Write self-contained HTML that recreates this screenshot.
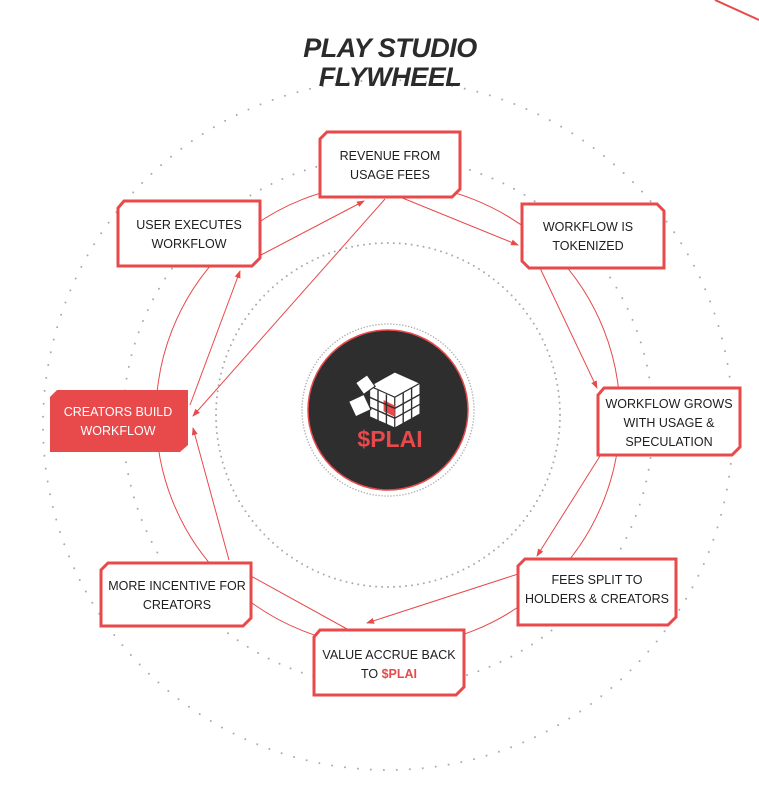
<!DOCTYPE html>
<html><head><meta charset="utf-8"><style>
html,body{margin:0;padding:0;background:#fff;}
body{width:759px;height:791px;overflow:hidden;position:relative;font-family:"Liberation Sans",sans-serif;}
.t{position:absolute;left:260px;top:34px;width:260px;text-align:center;font-weight:bold;font-style:italic;font-size:27px;line-height:29px;color:#2b2b2b;letter-spacing:-0.5px;}
</style></head><body>
<svg width="759" height="791" style="position:absolute;left:0;top:0">
<defs><marker id="a" markerWidth="8" markerHeight="8" refX="7" refY="4" orient="auto" markerUnits="userSpaceOnUse"><path d="M0,1 L8,4 L0,7z" fill="#e8494b"/></marker></defs>
<line x1="715" y1="0" x2="759" y2="20" stroke="#e8494b" stroke-width="2"/>
<g fill="none" stroke="#aaa" stroke-linecap="round">
<circle cx="388" cy="425" r="345" stroke-width="2" stroke-dasharray="0 13"/>
<circle cx="388" cy="422" r="265" stroke-width="2" stroke-dasharray="0 12"/>
<circle cx="388" cy="415" r="172" stroke-width="2" stroke-dasharray="0 6"/>
<circle cx="388" cy="410" r="86" stroke-width="1.5" stroke-dasharray="0 3"/>
</g>
<circle cx="388" cy="415" r="232" fill="none" stroke="#e8494b" stroke-width="1"/>
<g stroke="#e8494b" stroke-width="1" marker-end="url(#a)">
<line x1="400" y1="197" x2="518" y2="245"/>
<line x1="540" y1="268" x2="597" y2="388"/>
<line x1="600" y1="456" x2="537" y2="556"/>
<line x1="518" y1="574" x2="367" y2="623"/>
<line x1="347" y1="629" x2="240" y2="570"/>
<line x1="229" y1="560" x2="193" y2="428"/>
<line x1="190" y1="405" x2="240" y2="271"/>
<line x1="385" y1="199" x2="193" y2="416"/>
<line x1="261" y1="255" x2="364" y2="201"/>
</g>
<circle cx="388" cy="410" r="80" fill="#2e2e2e" stroke="#e8494b" stroke-width="1.5"/>
<g transform="translate(392,400) scale(1.4) translate(-384,-382)">
<g fill="#fff" stroke="#2e2e2e" stroke-width="0.8">
<path d="M368,372 l18,-10 18,8 -18,10z"/><path d="M368,372 l18,8 0,22 -18,-8z"/><path d="M386,380 l18,-10 0,22 -18,10z"/>
<rect x="355" y="380" width="12" height="12" transform="rotate(-25 361 386)"/>
<rect x="360" y="366" width="10" height="10" transform="rotate(-35 365 371)"/>
</g>
<path d="M378,382 l8,4 0,8 -8,-4z" fill="#e8494b"/>
<g stroke="#2e2e2e" stroke-width="1"><line x1="374" y1="375" x2="374" y2="397"/><line x1="380" y1="378" x2="380" y2="400"/><line x1="392" y1="377" x2="392" y2="399"/><line x1="398" y1="373" x2="398" y2="395"/><line x1="368" y1="380" x2="386" y2="388"/><line x1="368" y1="387" x2="386" y2="395"/><line x1="386" y1="388" x2="404" y2="378"/><line x1="386" y1="395" x2="404" y2="385"/></g>
</g>
<text x="390" y="447" text-anchor="middle" font-family="Liberation Sans,sans-serif" font-weight="bold" font-size="23" fill="#e8494b">$PLAI</text>
<g stroke="#e8494b" stroke-width="3" fill="#fff" stroke-linejoin="miter">
<path d="M327,132 H460 V189 L452,197 H320 V139z"/>
<path d="M124,201 H260 V258 L252,266 H118 V208z"/>
<path d="M522,204 H657 L664,211 V268 H529 L522,261z"/>
<path d="M604,388 H740 V447 L732,455 H598 V395z"/>
<path d="M525,559 H676 V617 L668,625 H518 V566z"/>
<path d="M108,563 H251 V618 L243,626 H101 V570z"/>
<path d="M320,630 H464 V687 L456,695 H314 V637z"/>
</g>
<path d="M57,390 H188 V445 L180,452 H50 V397z" fill="#e8494b"/>
<g font-family="Liberation Sans,sans-serif" font-size="12.5" fill="#1e1e1e" text-anchor="middle">
<text x="390" y="160">REVENUE FROM</text><text x="390" y="179">USAGE FEES</text>
<text x="189" y="229">USER EXECUTES</text><text x="189" y="248">WORKFLOW</text>
<text x="588" y="231">WORKFLOW IS</text><text x="588" y="250">TOKENIZED</text>
<text x="669" y="408">WORKFLOW GROWS</text><text x="669" y="427">WITH USAGE &amp;</text><text x="669" y="446">SPECULATION</text>
<text x="597" y="584">FEES SPLIT TO</text><text x="597" y="603">HOLDERS &amp; CREATORS</text>
<text x="177" y="590">MORE INCENTIVE FOR</text><text x="177" y="609">CREATORS</text>
<text x="389" y="659">VALUE ACCRUE BACK</text><text x="389" y="678">TO <tspan fill="#e8494b" font-weight="bold">$PLAI</tspan></text>
<text x="118" y="416" fill="#fff">CREATORS BUILD</text><text x="118" y="435" fill="#fff">WORKFLOW</text>
</g>
</svg>
<div class="t">PLAY STUDIO<br>FLYWHEEL</div>
</body></html>
